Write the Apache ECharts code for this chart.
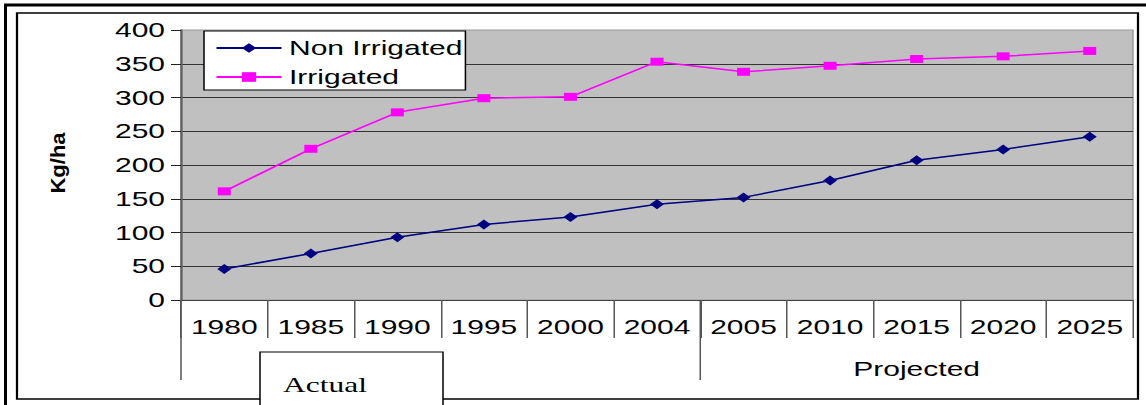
<!DOCTYPE html>
<html>
<head>
<meta charset="utf-8">
<script src="https://cdn.jsdelivr.net/npm/echarts@6/dist/echarts.min.js"></script>
<style>
  html, body { margin: 0; padding: 0; background: #fff; overflow: hidden; }
</style>
</head>
<body>
<div id="main"></div>
<script>
// chart data
const years = ['1980', '1985', '1990', '1995', '2000', '2004', '2005', '2010', '2015', '2020', '2025']
const nonIrrigated = [46, 69, 93, 112, 123, 142, 152, 177, 207, 223, 242]
const irrigated = [161, 224, 278, 299, 301, 353, 338, 347, 357, 361, 369]
const seriesNames = ['Non Irrigated', 'Irrigated']
const periodLabels = ['Actual', 'Projected']
const actualCount = 6 // 1980..2004 are actual, the rest projected
const yMin = 0
const yMax = 400
const yStep = 50

// the source chart is stretched sideways, so draw narrow and stretch the page element
const S = 1.5
const X = v => v / S
const W = 1146 / S

const el = document.getElementById('main')
el.style.width = W + 'px'
el.style.height = '405px'
el.style.transform = 'scaleX(' + S + ')'
el.style.transformOrigin = '0 0'

const chart = echarts.init(el, null, { renderer: 'svg' })

const font = 'Liberation Sans, Arial, sans-serif'

chart.setOption({
  animation: false,
  backgroundColor: '#fff',
  textStyle: { fontFamily: font },
  grid: {
    left: X(181),
    right: X(13),
    top: 30,
    bottom: 105,
    show: true,
    backgroundColor: '#C0C0C0',
    borderColor: '#9a9a9a',
    borderWidth: 1
  },
  legend: {
    orient: 'vertical',
    left: X(204),
    top: 31,
    itemWidth: X(65),
    itemHeight: 12,
    itemGap: 9,
    padding: [7, X(3), 3, X(11)],
    backgroundColor: '#fff',
    borderColor: '#000',
    borderWidth: 1,
    borderRadius: 0,
    textStyle: { fontSize: 20, color: '#000', lineHeight: 20, fontFamily: font },
    data: seriesNames
  },
  xAxis: {
    type: 'category',
    data: years,
    boundaryGap: true,
    axisLine: { show: true, lineStyle: { color: '#404040', width: 1 } },
    axisTick: { show: true, interval: 0, length: 38, lineStyle: { color: '#555' } },
    axisLabel: { interval: 0, margin: 17, fontSize: 20, color: '#000', fontFamily: font },
    splitLine: { show: false }
  },
  yAxis: {
    type: 'value',
    min: yMin,
    max: yMax,
    interval: yStep,
    axisLine: { show: true, lineStyle: { color: '#606060', width: 1.5 } },
    axisTick: { show: true, length: X(10), lineStyle: { color: '#222' } },
    axisLabel: { fontSize: 20, color: '#000', margin: X(16), fontFamily: font },
    splitLine: { show: true, showMaxLine: false, lineStyle: { color: '#333', width: 1 } }
  },
  series: [{
    name: seriesNames[0],
    type: 'line',
    data: nonIrrigated,
    symbol: 'diamond',
    symbolSize: [X(14), 10],
    itemStyle: { color: '#000080' },
    lineStyle: { color: '#000080', width: 1.5 }
  }, {
    name: seriesNames[1],
    type: 'line',
    data: irrigated,
    symbol: 'rect',
    symbolSize: [X(13), 8],
    itemStyle: { color: '#FF00FF' },
    lineStyle: { color: '#FF00FF', width: 1.5 }
  }]
})

// period groups under the category axis
const c5 = chart.convertToPixel({ xAxisIndex: 0 }, actualCount - 1)
const c6 = chart.convertToPixel({ xAxisIndex: 0 }, actualCount)
const splitX = (c5 + c6) / 2
const plotLeft = X(181)
const plotRight = W - X(13)

chart.setOption({
  graphic: [
    // frames
    { type: 'line', shape: { x1: X(4), y1: 5, x2: W, y2: 5 }, style: { stroke: '#000', lineWidth: 3 } },
    { type: 'line', shape: { x1: X(5.5), y1: 4, x2: X(5.5), y2: 405 }, style: { stroke: '#000', lineWidth: 2 } },
    { type: 'rect', shape: { x: X(17), y: 13, width: X(1121), height: 386 }, style: { fill: 'none', stroke: '#000', lineWidth: 1.5 } },
    // long group separators
    { type: 'line', shape: { x1: plotLeft, y1: 300, x2: plotLeft, y2: 380 }, style: { stroke: '#555', lineWidth: 1 } },
    { type: 'line', shape: { x1: splitX, y1: 300, x2: splitX, y2: 380 }, style: { stroke: '#555', lineWidth: 1 } },
    {
      type: 'text', x: (splitX + plotRight) / 2, y: 369,
      style: { text: periodLabels[1], fontSize: 20, fontFamily: font, fill: '#000', align: 'center', verticalAlign: 'middle' }
    },
    // "Actual" text box
    { type: 'rect', shape: { x: X(260), y: 352, width: X(183), height: 60 }, style: { fill: '#fff', stroke: '#000', lineWidth: 1 } },
    {
      type: 'text', x: X(283), y: 385,
      style: { text: periodLabels[0], fontSize: 21, fontFamily: 'Liberation Serif, Times New Roman, serif', fill: '#000', align: 'left', verticalAlign: 'middle' }
    },
    // y axis title
    {
      type: 'text', x: X(58), y: 163, rotation: Math.PI / 2, scaleY: 0.6,
      style: { text: 'Kg/ha', fontSize: 22, fontWeight: 'bold', fontFamily: font, fill: '#000', align: 'center', verticalAlign: 'middle' }
    }
  ]
})
</script>
</body>
</html>
